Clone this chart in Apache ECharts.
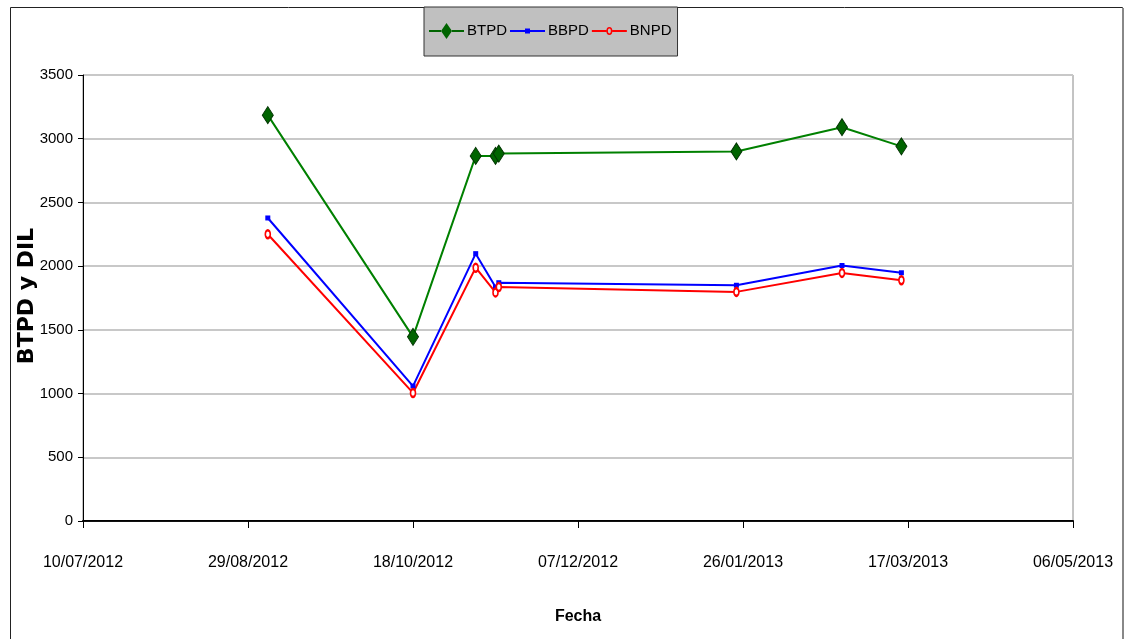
<!DOCTYPE html>
<html>
<head>
<meta charset="utf-8">
<script src="https://cdn.jsdelivr.net/npm/echarts@6/dist/echarts.min.js"></script>
<style>
  html, body { margin: 0; padding: 0; background: #fff; }
  #chart { width: 1126px; height: 639px; }
</style>
</head>
<body>
<div id="chart"></div>
<script>
// fechas de medición (comunes a las 3 series)
const fechas = ["2012-09-04", "2012-10-18", "2012-11-06", "2012-11-12", "2012-11-13", "2013-01-24", "2013-02-25", "2013-03-15"];
const btpd = [3185, 1445, 2865, 2865, 2883, 2900, 3090, 2940];
const bbpd = [2378, 1059, 2098, 1836, 1870, 1850, 2005, 1948];
const bnpd = [2250, 1005, 1988, 1794, 1836, 1798, 1947, 1890];
const series_names = ["BTPD", "BBPD", "BNPD"];

// eje x: dias desde 10/07/2012, marcas cada 50 dias
const fechaBase = Date.UTC(2012, 6, 10);
const DIA = 86400000;
const xMin = 0, xMax = 300, xPaso = 50;

const fuente = "'Liberation Sans Narrow', 'Arial Narrow', 'Liberation Sans', Arial, sans-serif";

// iconos de leyenda: linea + marcador (caja 35x16)
const iconos = {
  BTPD: "path://M0,0M35,16M0,7h12v2h-12zM23,7h12v2h-12zM17.5,0L23,8L17.5,16L12,8z",
  BBPD: "path://M0,0M35,16M0,7h35v2h-35zM15,5.5h5v5h-5z",
  BNPD: "path://M0,0M35,16M0,7h14.5v2h-14.5zM20.5,7h14.5v2h-14.5zM17.5,4A3,4 0 1,1 17.5,12A3,4 0 1,1 17.5,4zM17.5,5.6A1.5,2.4 0 1,0 17.5,10.4A1.5,2.4 0 1,0 17.5,5.6z"
};

function dias(f) {
  const p = f.split("-").map(Number);
  return (Date.UTC(p[0], p[1] - 1, p[2]) - fechaBase) / DIA;
}
function fmtFecha(v) {
  const d = new Date(fechaBase + v * DIA);
  const dd = String(d.getUTCDate()).padStart(2, "0");
  const mm = String(d.getUTCMonth() + 1).padStart(2, "0");
  return dd + "/" + mm + "/" + d.getUTCFullYear();
}
function pares(vals) {
  return fechas.map((f, i) => [dias(f), vals[i]]);
}

const chart = echarts.init(document.getElementById("chart"));

const option = {
  animation: false,
  backgroundColor: "#fff",
  graphic: [
    { type: "rect", shape: { x: 10.5, y: 7.5, width: 1112, height: 640 }, style: { fill: "none", stroke: "#222", lineWidth: 1 }, z: -1 },
    { type: "line", shape: { x1: 1123, y1: 8, x2: 1123, y2: 639 }, style: { stroke: "#888", lineWidth: 2 } },
    // titulo del eje y
    {
      type: "text",
      x: 27,
      y: 296,
      rotation: Math.PI / 2,
      style: {
        text: "BTPD y DIL",
        align: "center",
        verticalAlign: "middle",
        fill: "#000",
        font: "bold 22px 'DejaVu Sans', 'Liberation Sans', Arial, sans-serif"
      }
    }
  ],
  legend: {
    left: 424,
    top: 7,
    data: series_names.map((n) => ({ name: n, icon: iconos[n], itemStyle: { borderWidth: 0 } })),
    backgroundColor: "#c0c0c0",
    borderColor: "#333",
    borderWidth: 1,
    borderRadius: 0,
    padding: [16, 6, 17, 5],
    itemGap: 3,
    itemWidth: 35,
    itemHeight: 17,
    textStyle: { fontFamily: fuente, fontSize: 15, color: "#000", padding: [0, 0, 0, -2] }
  },
  grid: { left: 83, top: 75, right: 53, bottom: 118, show: true, borderColor: "#888", borderWidth: 1 },
  xAxis: [
    {
      type: "value",
      min: xMin,
      max: xMax,
      interval: xPaso,
      name: "Fecha",
      nameLocation: "middle",
      nameGap: 88,
      nameTextStyle: { fontFamily: fuente, fontWeight: "bold", fontSize: 16, color: "#000" },
      axisLine: { show: true, onZero: false, lineStyle: { color: "#000", width: 2 } },
      axisTick: { show: true, length: 7, lineStyle: { color: "#000" } },
      axisLabel: { formatter: fmtFecha, fontFamily: fuente, fontSize: 16, color: "#000", margin: 34, showMinLabel: true, showMaxLabel: true },
      splitLine: { show: false }
    },
    {
      type: "value",
      position: "top",
      min: xMin,
      max: xMax,
      interval: xPaso,
      axisLine: { show: true, lineStyle: { color: "#111", width: 1 } },
      axisTick: { show: false },
      axisLabel: { show: false },
      splitLine: { show: false }
    }
  ],
  yAxis: {
    type: "value",
    min: 0,
    max: 3500,
    interval: 500,
    axisLine: { show: true, lineStyle: { color: "#000", width: 1 } },
    axisTick: { show: true, length: 5, lineStyle: { color: "#000" } },
    axisLabel: { formatter: (v) => String(v), fontFamily: fuente, fontSize: 15, color: "#000", margin: 10 },
    splitLine: { show: true, lineStyle: { color: "#c8c8c8", width: 2 } }
  },
  series: [
    {
      name: "BTPD",
      type: "line",
      data: pares(btpd),
      symbol: "diamond",
      symbolSize: [11, 17],
      lineStyle: { color: "#008000", width: 2 },
      itemStyle: { color: "#006400", borderColor: "#003300", borderWidth: 1 }
    },
    {
      name: "BBPD",
      type: "line",
      data: pares(bbpd),
      symbol: "rect",
      symbolSize: 5,
      lineStyle: { color: "#0000ff", width: 2 },
      itemStyle: { color: "#0000ff" }
    },
    {
      name: "BNPD",
      type: "line",
      data: pares(bnpd),
      symbol: "emptyCircle",
      symbolSize: [5, 8],
      lineStyle: { color: "#ff0000", width: 2 },
      itemStyle: { color: "#ff0000", borderColor: "#ff0000", borderWidth: 1.5 }
    }
  ]
};

chart.setOption(option);
</script>
</body>
</html>
